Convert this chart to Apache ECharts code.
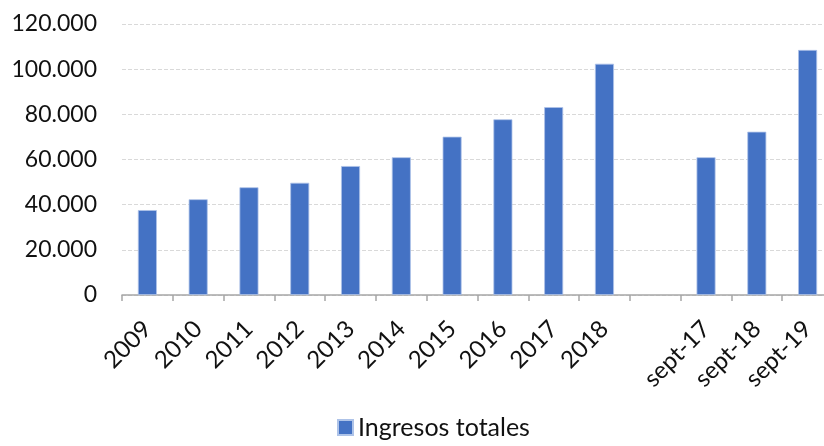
<!DOCTYPE html>
<html><head><meta charset="utf-8">
<script src="https://cdn.jsdelivr.net/npm/echarts@6/dist/echarts.min.js"></script>
<style>html,body{margin:0;padding:0;background:#fff}#c{width:824px;height:446px}</style>
</head><body><div id="c"></div>
<script>
var categories = ['2009','2010','2011','2012','2013','2014','2015','2016','2017','2018','','sept-17','sept-18','sept-19'];
var ingresos = [37600, 42400, 47700, 49700, 57100, 61000, 70100, 77800, 83200, 102400, null, 61000, 72300, 108500];
var seriesName = 'Ingresos totales';
var chart = echarts.init(document.getElementById('c'));
var font = 'Lato, "Open Sans", sans-serif';
chart.setOption({
  animation: false,
  grid: {left: 122, width: 711, top: 24, bottom: 151, containLabel: false, outerBoundsMode: 'none'},
  legend: {
    bottom: 1, left: 332, itemWidth: 15, itemHeight: 15, icon: 'rect',
    textStyle: {fontSize: 25, color: '#111', fontFamily: font},
    data: [seriesName]
  },
  xAxis: {
    type: 'category', data: categories,
    axisLine: {lineStyle: {color: '#a6a6a6', width: 1.5}},
    axisTick: {show: true, length: 6, lineStyle: {color: '#a6a6a6', width: 1.5}},
    axisLabel: {rotate: 45, fontSize: 24, color: '#111', fontFamily: font, margin: 30, interval: 0}
  },
  yAxis: {
    type: 'value', min: 0, max: 120000, interval: 20000,
    axisLine: {show: false}, axisTick: {show: false},
    splitLine: {lineStyle: {color: '#d9d9d9', type: 'dashed'}},
    axisLabel: {fontSize: 23, color: '#111', fontFamily: font, margin: 25,
      formatter: function(v){ return v === 0 ? '0' : String(v).replace(/\B(?=(\d{3})+(?!\d))/g, '.'); }}
  },
  series: [{
    name: seriesName, type: 'bar', data: ingresos, barWidth: 19,
    itemStyle: {color: '#4472c4', borderColor: '#aec3e8', borderWidth: 0.8}
  }]
});
</script></body></html>
